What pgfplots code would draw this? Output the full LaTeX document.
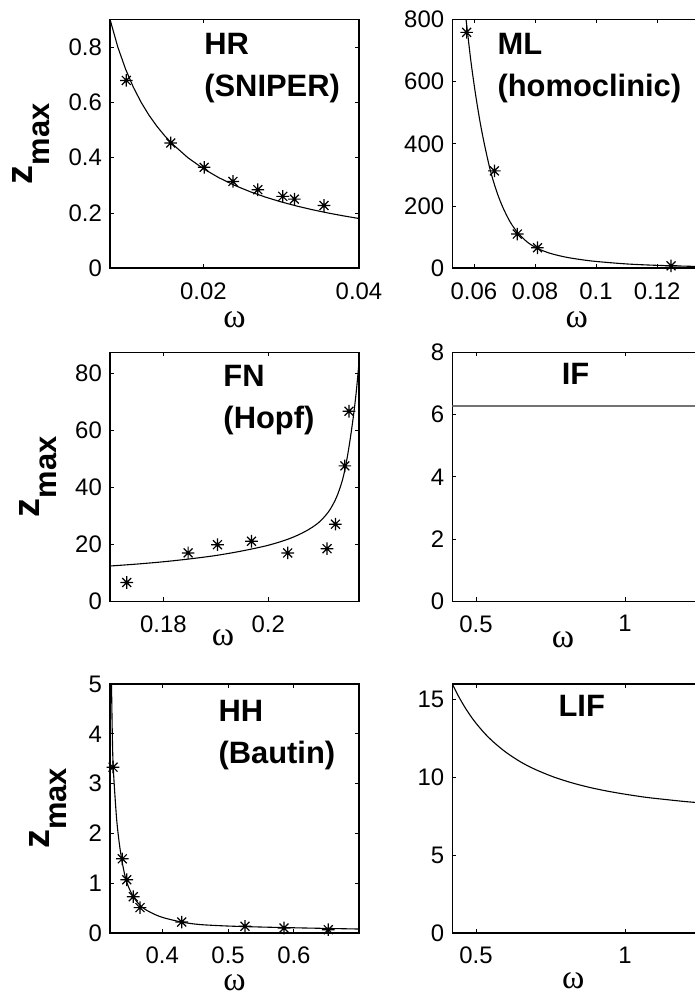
\documentclass[border=0pt]{standalone}
\usepackage{fontspec}
\setmainfont{Liberation Sans}
\newfontfamily\omegafont{Liberation Serif}
\usepackage{pgfplots}
\pgfplotsset{compat=1.18}

\pgfdeclareplotmark{mstar}{%
  \pgfpathmoveto{\pgfqpoint{-\pgfplotmarksize}{0pt}}%
  \pgfpathlineto{\pgfqpoint{\pgfplotmarksize}{0pt}}%
  \pgfpathmoveto{\pgfqpoint{0pt}{-\pgfplotmarksize}}%
  \pgfpathlineto{\pgfqpoint{0pt}{\pgfplotmarksize}}%
  \pgfpathmoveto{\pgfqpoint{-0.7071\pgfplotmarksize}{-0.7071\pgfplotmarksize}}%
  \pgfpathlineto{\pgfqpoint{0.7071\pgfplotmarksize}{0.7071\pgfplotmarksize}}%
  \pgfpathmoveto{\pgfqpoint{-0.7071\pgfplotmarksize}{0.7071\pgfplotmarksize}}%
  \pgfpathlineto{\pgfqpoint{0.7071\pgfplotmarksize}{-0.7071\pgfplotmarksize}}%
  \pgfusepathqstroke
}

\tikzset{ttl/.style={anchor=north west, inner sep=0pt, align=left, font=\fontsize{31}{42}\selectfont\bfseries}}
\pgfplotsset{
  myax/.style={
    scale only axis, width=249bp, height=249bp, anchor=north west,
    tick align=inside, xtick pos=both, ytick pos=both,
    major tick length=4bp,
    axis line style={line width=1.6bp},
    every tick/.style={line width=0.8bp, black},
    tick label style={font=\fontsize{24}{24}\selectfont},
    xticklabel style={inner sep=0pt, yshift=-14bp},
    yticklabel style={inner sep=0pt, xshift=-8bp},
    xlabel style={inner sep=0pt, anchor=north, font=\omegafont\fontsize{34}{34}\selectfont},
    ylabel style={inner sep=0pt, anchor=south},
    scaled ticks=false,
    /pgf/number format/assume math mode=true,
    ymin=0,
  },
  curve/.style={black, line width=1.1bp, no marks},
  pts/.style={black, only marks, mark=mstar, mark size=6.3bp, line width=1.2bp},
}
\newcommand{\zlab}{{\fontsize{38}{38}\selectfont\bfseries z\raisebox{-17bp}{\fontsize{31}{31}\selectfont max}}}

\begin{document}
\begin{tikzpicture}
% ---------------- HR
\begin{axis}[myax, at={(110bp,-19.3bp)},
  xmin=0.008, xmax=0.04, ymax=0.9,
  xtick={0.02,0.04}, xticklabels={0.02,0.04},
  ytick={0,0.2,0.4,0.6,0.8}, yticklabels={0,0.2,0.4,0.6,0.8},
  xlabel={ω}, xlabel style={at={(axis description cs:0.5,-0.172)}},
  ylabel={\zlab}, ylabel style={at={(axis description cs:-0.241,0.5)}}]
\addplot[curve] coordinates {(0.008,0.9) (0.009,0.8) (0.010,0.72) (0.011,0.6545) (0.012,0.6) (0.013,0.5538) (0.014,0.5143) (0.015,0.48) (0.016,0.45) (0.018,0.4) (0.020,0.36) (0.022,0.3273) (0.024,0.3) (0.026,0.2769) (0.028,0.2571) (0.030,0.24) (0.032,0.225) (0.034,0.2118) (0.036,0.2) (0.038,0.1895) (0.040,0.18)};
\addplot[pts] coordinates {(0.0101,0.679) (0.0158,0.453) (0.0201,0.365) (0.0238,0.314) (0.0270,0.284) (0.0302,0.260) (0.0317,0.250) (0.0355,0.227)};
\node[ttl] at (axis description cs:0.378,0.944) {HR\\(SNIPER)};
\end{axis}
% ---------------- ML
\begin{axis}[myax, at={(452.3bp,-19.3bp)},
  xmin=0.0529, xmax=0.1345, ymax=800,
  xtick={0.06,0.08,0.1,0.12}, xticklabels={0.06,0.08,0.1,0.12},
  ytick={0,200,400,600,800}, yticklabels={0,200,400,600,800},
  xlabel={ω}, xlabel style={at={(axis description cs:0.5,-0.172)}}]
\addplot[curve, smooth, tension=0.5] coordinates {(0.0574,800) (0.0590,665) (0.0605,560) (0.0620,470) (0.0635,395) (0.0654,313) (0.0675,245) (0.0695,195) (0.0718,150) (0.0742,116) (0.0775,84) (0.0808,64) (0.085,48) (0.090,36) (0.095,28) (0.10,22) (0.11,14) (0.12,9.5) (0.1345,5.5)};
\addplot[pts] coordinates {(0.0576,758) (0.0667,313) (0.0742,110) (0.0808,66) (0.1246,8)};
\node[ttl] at (axis description cs:0.181,0.944) {ML\\(homoclinic)};
\end{axis}
% ---------------- FN
\begin{axis}[myax, at={(110bp,-352.3bp)},
  xmin=0.1698, xmax=0.2173, ymax=87.5,
  xtick={0.18,0.2}, xticklabels={0.18,0.2},
  ytick={0,20,40,60,80}, yticklabels={0,20,40,60,80},
  xlabel={ω}, xlabel style={at={(axis description cs:0.454,-0.112)}},
  ylabel={\zlab}, ylabel style={at={(axis description cs:-0.213,0.5)}}]
\addplot[curve, smooth, tension=0.5] coordinates {(0.1698,12.4) (0.175,13.1) (0.18,13.9) (0.185,14.9) (0.19,16.1) (0.195,17.7) (0.2,19.7) (0.204,22.0) (0.207,24.5) (0.2095,27.5) (0.2115,31.5) (0.2130,36.5) (0.2142,43) (0.2150,50) (0.2157,58) (0.2163,66) (0.2168,74) (0.2173,84)};
\addplot[pts] coordinates {(0.1730,6.6) (0.1847,17.0) (0.1903,19.9) (0.1968,21.1) (0.2037,17.0) (0.2112,18.5) (0.2128,27.1) (0.2146,47.6) (0.2154,66.8)};
\node[ttl] at (axis description cs:0.455,0.949) {FN\\(Hopf)};
\end{axis}
% ---------------- IF
\begin{axis}[myax, at={(452.3bp,-352.3bp)},
  xmin=0.4205, xmax=1.256, ymax=8,
  xtick={0.5,1}, xticklabels={0.5,1},
  ytick={0,2,4,6,8}, yticklabels={0,2,4,6,8},
  xlabel={ω}, xlabel style={at={(axis description cs:0.4446,-0.12)}}]
\addplot[black!55, line width=1.6bp, no marks] coordinates {(0.4205,6.2832) (1.256,6.2832)};
\node[ttl] at (axis description cs:0.439,0.957) {IF};
\end{axis}
% ---------------- HH
\begin{axis}[myax, at={(110bp,-684bp)},
  xmin=0.3205, xmax=0.699, ymax=5,
  xtick={0.4,0.5,0.6}, xticklabels={0.4,0.5,0.6},
  ytick={0,1,2,3,4,5}, yticklabels={0,1,2,3,4,5},
  xlabel={ω}, xlabel style={at={(axis description cs:0.5,-0.165)}},
  ylabel={\zlab}, ylabel style={at={(axis description cs:-0.173,0.5)}}]
\addplot[curve, smooth, tension=0.5] coordinates {(0.3228,5.0) (0.3240,4.0) (0.3255,3.31) (0.3307,2.27) (0.3368,1.60) (0.3448,1.07) (0.3559,0.73) (0.3711,0.50) (0.3965,0.33) (0.4295,0.22) (0.4573,0.17) (0.5,0.14) (0.55,0.12) (0.6,0.105) (0.65,0.092) (0.699,0.08)};
\addplot[pts] coordinates {(0.3251,3.33) (0.3392,1.49) (0.3459,1.07) (0.3559,0.73) (0.3661,0.51) (0.4295,0.22) (0.5257,0.134) (0.5850,0.10) (0.6523,0.067)};
\node[ttl] at (axis description cs:0.435,0.936) {HH\\(Bautin)};
\end{axis}
% ---------------- LIF
\begin{axis}[myax, at={(452.3bp,-684bp)},
  xmin=0.4205, xmax=1.256, ymax=16,
  xtick={0.5,1}, xticklabels={0.5,1},
  ytick={0,5,10,15}, yticklabels={0,5,10,15},
  xlabel={ω}, xlabel style={at={(axis description cs:0.486,-0.16)}}]
\addplot[curve, smooth, tension=0.5] coordinates {(0.4205,16.0) (0.44,15.26) (0.46,14.59) (0.48,14.0) (0.50,13.48) (0.53,12.81) (0.56,12.25) (0.60,11.62) (0.65,10.99) (0.70,10.50) (0.76,10.03) (0.82,9.66) (0.88,9.36) (0.94,9.12) (1.00,8.92) (1.07,8.72) (1.14,8.57) (1.20,8.45) (1.256,8.36)};
\node[ttl] at (axis description cs:0.426,0.957) {LIF};
\end{axis}
\pgfresetboundingbox
\path[use as bounding box] (0bp,0bp) rectangle (695bp,-994bp);
\end{tikzpicture}
\end{document}
